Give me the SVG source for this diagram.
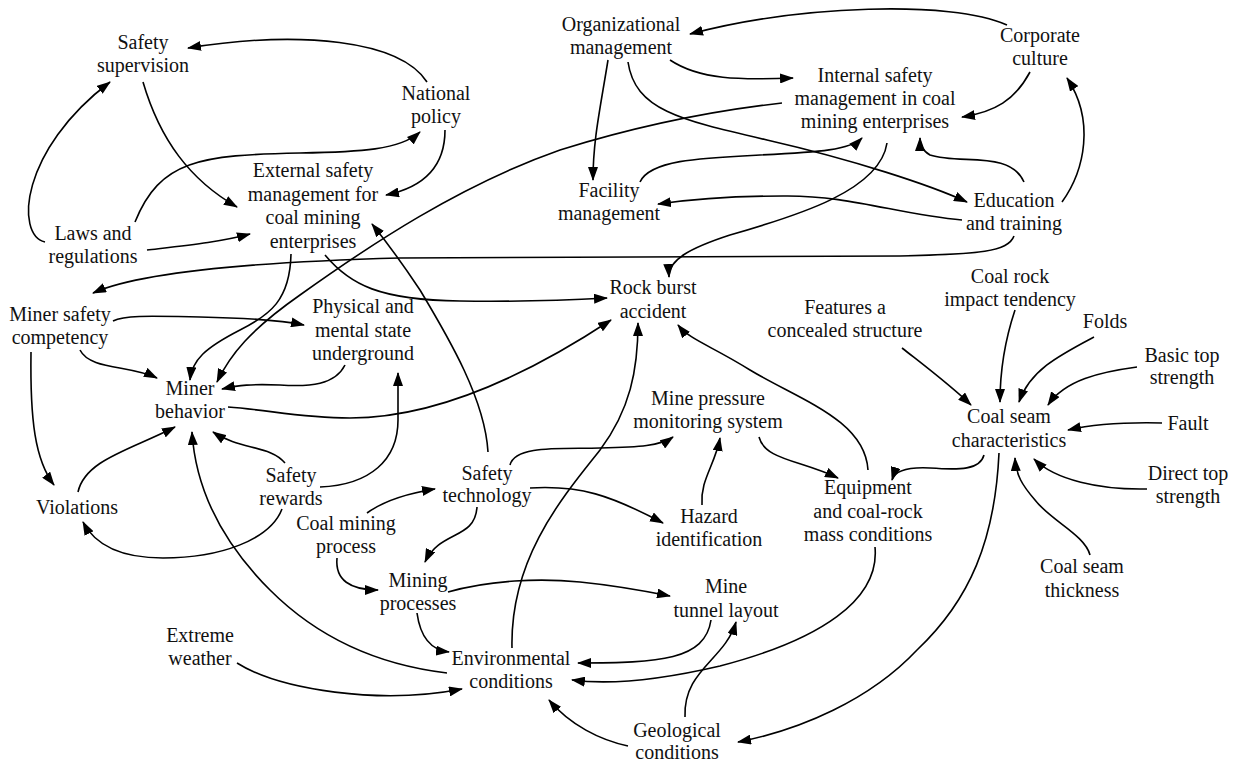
<svg xmlns="http://www.w3.org/2000/svg" width="1237" height="770" viewBox="0 0 1237 770">
<style>
text{font-family:'Liberation Serif','Times New Roman','DejaVu Serif',serif;font-size:20px;fill:#111;text-anchor:middle}
.c path{fill:none;stroke:#000;stroke-width:1.6;marker-end:url(#ah)}
</style>
<defs>
<marker id="ah" viewBox="0 0 14 10" refX="13" refY="5" markerWidth="14" markerHeight="10" markerUnits="userSpaceOnUse" orient="auto">
<path d="M0,0 L14,5 L0,10 z" fill="#000"/>
</marker>
</defs>
<rect width="1237" height="770" fill="#fff"/>
<g class="c" id="connectors">
<path d="M427,82 C400,40 300,30 188,48"/>
<path d="M143,82 C160,140 190,180 237,207"/>
<path d="M45,242 C15,235 20,150 110,82"/>
<path d="M135,222 C160,160 200,155 300,153 C360,152 400,150 420,132"/>
<path d="M147,250 C190,245 220,242 250,234"/>
<path d="M445,130 C445,170 420,188 386,195"/>
<path d="M608,60 C600,110 593,140 593,180"/>
<path d="M1007,25 C950,0 800,5 690,34"/>
<path d="M670,60 C700,80 740,80 793,78"/>
<path d="M628,62 C635,110 680,120 767,140 S930,185 967,202"/>
<path d="M962,220 C900,215 850,195 783,196 C740,196 700,198 658,204"/>
<path d="M640,182 C650,160 700,158 760,155 C820,152 850,150 862,138"/>
<path d="M782,103 C720,110 640,125 560,150 C460,185 370,245 300,295 C250,330 230,355 217,382"/>
<path d="M1030,72 C1015,100 995,112 962,117"/>
<path d="M1062,202 C1085,170 1095,120 1067,78"/>
<path d="M1024,182 C1010,150 960,165 930,155 C922,150 920,145 920,138"/>
<path d="M887,143 C880,190 800,215 730,235 C690,248 668,260 669,277"/>
<path d="M1014,236 C1008,252 980,254 900,256 L400,258 C250,262 140,272 93,293"/>
<path d="M291,254 C290,300 270,315 240,330 C205,348 192,360 190,380"/>
<path d="M325,255 C350,285 380,300 460,301 C520,302 570,300 607,298"/>
<path d="M113,321 C125,315 150,316 200,317 C250,318 280,320 304,325"/>
<path d="M80,350 C90,370 130,365 157,378"/>
<path d="M31,352 C30,420 35,460 54,485"/>
<path d="M345,365 C335,385 310,387 280,385 C250,384 240,385 222,389"/>
<path d="M228,407 C270,410 300,418 350,418 C430,418 520,380 611,320"/>
<path d="M78,492 C85,460 130,450 175,427"/>
<path d="M285,463 C270,445 240,450 213,432"/>
<path d="M447,673 C380,665 320,640 270,590 C215,535 195,480 192,432"/>
<path d="M282,509 C270,540 220,558 163,558 C120,558 95,545 83,522"/>
<path d="M320,487 C370,485 398,460 398,420 L398,373"/>
<path d="M488,452 C485,400 450,340 420,290 C400,260 385,240 372,224"/>
<path d="M367,513 C385,500 410,493 435,489"/>
<path d="M510,465 C515,445 560,449 600,448 C640,447 660,446 673,437"/>
<path d="M530,488 C580,485 610,495 663,523"/>
<path d="M477,507 C475,540 440,530 425,562"/>
<path d="M337,558 C335,580 350,590 378,590"/>
<path d="M448,592 C490,580 540,578 580,582 C620,586 650,592 670,596"/>
<path d="M417,613 C420,635 430,650 449,652"/>
<path d="M512,648 C510,560 560,500 600,450 C630,410 638,370 638,323"/>
<path d="M237,663 C280,690 380,705 462,689"/>
<path d="M711,620 C705,660 660,663 578,663"/>
<path d="M875,547 C880,600 820,640 720,666 C660,680 610,685 572,680"/>
<path d="M628,746 C600,740 570,725 549,700"/>
<path d="M685,717 C683,670 725,660 736,622"/>
<path d="M999,453 C995,540 970,600 917,650 C870,700 800,730 738,742"/>
<path d="M984,455 C980,470 960,470 930,468 C910,467 895,470 892,480"/>
<path d="M759,437 C765,460 800,460 838,478"/>
<path d="M868,470 C865,420 800,400 750,370 C710,345 690,340 678,325"/>
<path d="M702,505 C700,480 715,465 720,438"/>
<path d="M902,348 C930,370 950,385 971,405"/>
<path d="M1015,310 C1005,340 1000,370 1000,402"/>
<path d="M1094,337 C1060,355 1030,370 1019,402"/>
<path d="M1137,367 C1100,372 1065,380 1048,405"/>
<path d="M1162,423 C1120,422 1090,425 1068,430"/>
<path d="M1147,489 C1100,490 1055,480 1034,459"/>
<path d="M1090,555 C1085,535 1050,520 1035,500 C1022,485 1016,475 1015,458"/>
</g>
<g font-family="Liberation Serif, Times New Roman, serif">
<g id="safety_supervision"><text><tspan x="143" y="49">Safety</tspan><tspan x="143" y="72">supervision</tspan></text></g>
<g id="national_policy"><text><tspan x="436" y="100">National</tspan><tspan x="436" y="123">policy</tspan></text></g>
<g id="external_safety"><text><tspan x="313" y="177">External safety</tspan><tspan x="313" y="201">management for</tspan><tspan x="313" y="224">coal mining</tspan><tspan x="313" y="248">enterprises</tspan></text></g>
<g id="laws"><text><tspan x="93" y="240">Laws and</tspan><tspan x="93" y="263">regulations</tspan></text></g>
<g id="org_mgmt"><text><tspan x="621" y="31">Organizational</tspan><tspan x="621" y="54">management</tspan></text></g>
<g id="corporate_culture"><text><tspan x="1040" y="42">Corporate</tspan><tspan x="1040" y="65">culture</tspan></text></g>
<g id="internal_safety"><text><tspan x="875" y="82">Internal safety</tspan><tspan x="875" y="105">management in coal</tspan><tspan x="875" y="128">mining enterprises</tspan></text></g>
<g id="facility_mgmt"><text><tspan x="609" y="197">Facility</tspan><tspan x="609" y="220">management</tspan></text></g>
<g id="education"><text><tspan x="1014" y="207">Education</tspan><tspan x="1014" y="230">and training</tspan></text></g>
<g id="rock_burst"><text><tspan x="653" y="294">Rock burst</tspan><tspan x="653" y="318">accident</tspan></text></g>
<g id="competency"><text><tspan x="60" y="321">Miner safety</tspan><tspan x="60" y="344">competency</tspan></text></g>
<g id="physical_mental"><text><tspan x="363" y="313">Physical and</tspan><tspan x="363" y="337">mental state</tspan><tspan x="363" y="360">underground</tspan></text></g>
<g id="miner_behavior"><text><tspan x="190" y="395">Miner</tspan><tspan x="190" y="418">behavior</tspan></text></g>
<g id="violations"><text><tspan x="77" y="514">Violations</tspan></text></g>
<g id="safety_rewards"><text><tspan x="291" y="482">Safety</tspan><tspan x="291" y="505">rewards</tspan></text></g>
<g id="safety_technology"><text><tspan x="487" y="480">Safety</tspan><tspan x="487" y="502">technology</tspan></text></g>
<g id="coal_mining_process"><text><tspan x="346" y="530">Coal mining</tspan><tspan x="346" y="553">process</tspan></text></g>
<g id="mining_processes"><text><tspan x="418" y="587">Mining</tspan><tspan x="418" y="610">processes</tspan></text></g>
<g id="environmental"><text><tspan x="511" y="665">Environmental</tspan><tspan x="511" y="688">conditions</tspan></text></g>
<g id="extreme_weather"><text><tspan x="200" y="642">Extreme</tspan><tspan x="200" y="665">weather</tspan></text></g>
<g id="mine_pressure"><text><tspan x="708" y="405">Mine pressure</tspan><tspan x="708" y="428">monitoring system</tspan></text></g>
<g id="hazard"><text><tspan x="709" y="523">Hazard</tspan><tspan x="709" y="546">identification</tspan></text></g>
<g id="equipment"><text><tspan x="868" y="494">Equipment</tspan><tspan x="868" y="518">and coal-rock</tspan><tspan x="868" y="541">mass conditions</tspan></text></g>
<g id="tunnel_layout"><text><tspan x="726" y="593">Mine</tspan><tspan x="726" y="617">tunnel layout</tspan></text></g>
<g id="geological"><text><tspan x="677" y="737">Geological</tspan><tspan x="677" y="759">conditions</tspan></text></g>
<g id="features"><text><tspan x="845" y="314">Features a</tspan><tspan x="845" y="337">concealed structure</tspan></text></g>
<g id="coal_rock_impact"><text><tspan x="1010" y="283">Coal rock</tspan><tspan x="1010" y="306">impact tendency</tspan></text></g>
<g id="folds"><text><tspan x="1105" y="328">Folds</tspan></text></g>
<g id="basic_top"><text><tspan x="1182" y="362">Basic top</tspan><tspan x="1182" y="384">strength</tspan></text></g>
<g id="coal_seam"><text><tspan x="1009" y="423">Coal seam</tspan><tspan x="1009" y="447">characteristics</tspan></text></g>
<g id="fault"><text><tspan x="1188" y="430">Fault</tspan></text></g>
<g id="direct_top"><text><tspan x="1188" y="480">Direct top</tspan><tspan x="1188" y="503">strength</tspan></text></g>
<g id="seam_thickness"><text><tspan x="1082" y="573">Coal seam</tspan><tspan x="1082" y="597">thickness</tspan></text></g>
</g>
</svg>
